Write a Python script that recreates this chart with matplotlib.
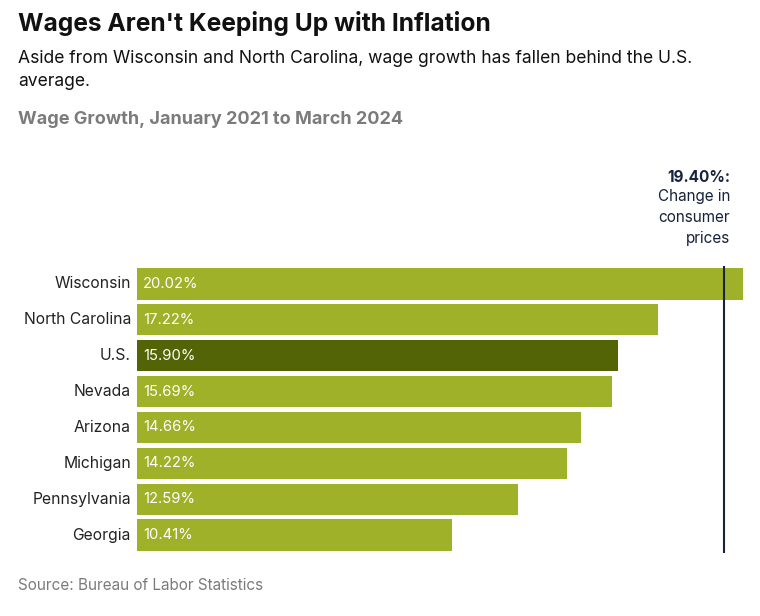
import matplotlib.pyplot as plt

plt.rcParams['font.family'] = ['Inter', 'DejaVu Sans']

states = ['Wisconsin', 'North Carolina', 'U.S.', 'Nevada', 'Arizona',
          'Michigan', 'Pennsylvania', 'Georgia']
growth = [20.02, 17.22, 15.90, 15.69, 14.66, 14.22, 12.59, 10.41]
cpi_change = 19.40

green = '#9fb128'
dark_green = '#526405'
colors = [dark_green if s == 'U.S.' else green for s in states]

fig = plt.figure(figsize=(7.6, 6.16), dpi=100)
ax = fig.add_axes([137 / 760, 1 - 553 / 616, 606 / 760, 287 / 616])

ypos = list(range(len(states)))
ax.barh(ypos, growth, height=0.87, color=colors)
ax.set_xlim(0, max(growth))
ax.set_ylim(len(states) - 0.5, -0.5)

for y, v, s in zip(ypos, growth, states):
    ax.text(0.2, y, f'{v:.2f}%', color='white', fontsize=10.7,
            va='center', ha='left')
    ax.text(-0.2, y, s, color='#222222', fontsize=11.3,
            va='center', ha='right')

ax.axvline(cpi_change, color='#17233a', lw=1.5, ymin=0, ymax=1)

ax.set_xticks([])
ax.set_yticks([])
for sp in ax.spines.values():
    sp.set_visible(False)

# annotation for the CPI line
fig.text(730 / 760, 1 - 178 / 616, f'{cpi_change:.2f}%:', fontsize=11,
         fontweight='bold', color='#17233a', ha='right', va='center')
fig.text(730 / 760, 1 - 218 / 616, 'Change in\nconsumer\nprices',
         fontsize=11, color='#17233a', ha='right', va='center',
         linespacing=1.5)

fig.text(18 / 760, 1 - 24 / 616, "Wages Aren't Keeping Up with Inflation",
         fontsize=17.7, fontweight='bold', color='#111111', va='center')
fig.text(18 / 760, 1 - 70 / 616,
         'Aside from Wisconsin and North Carolina, wage growth has fallen behind the U.S.\naverage.',
         fontsize=12.6, color='#111111', va='center', linespacing=1.4)
fig.text(18 / 760, 1 - 120 / 616, 'Wage Growth, January 2021 to March 2024',
         fontsize=13, fontweight='bold', color='#7b7b7b', va='center')
fig.text(18 / 760, 1 - 586 / 616, 'Source: Bureau of Labor Statistics',
         fontsize=11, color='#7b7b7b', va='center')

fig.savefig('out.png', dpi=100)
